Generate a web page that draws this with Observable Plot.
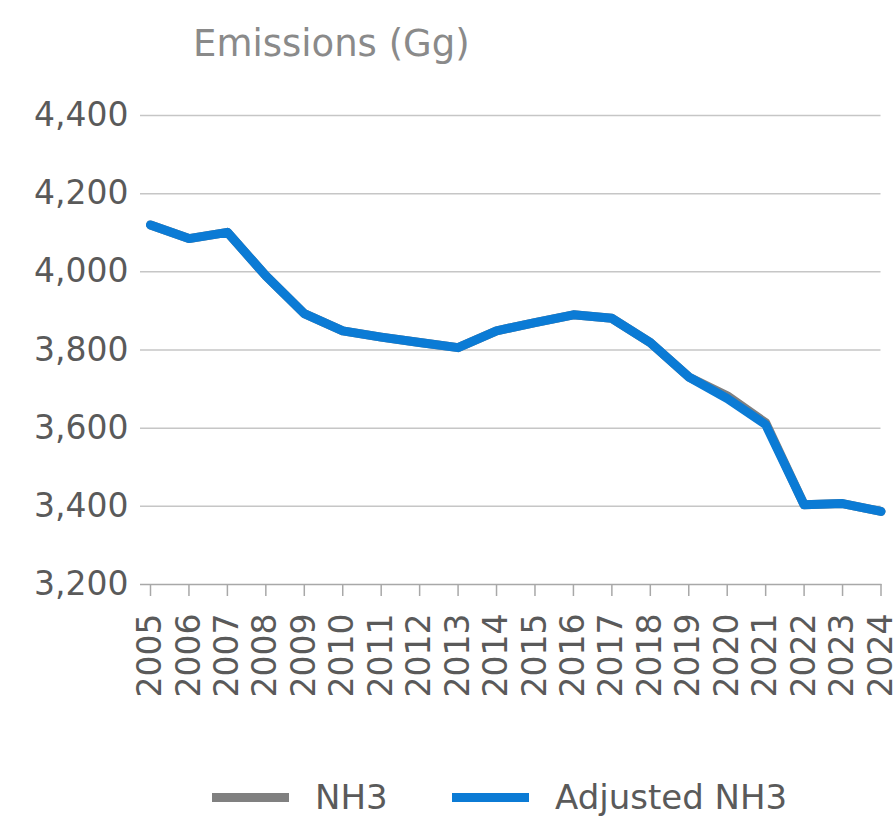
<!DOCTYPE html>
<html>
<head>
<meta charset="utf-8">
<script src="https://cdn.jsdelivr.net/npm/d3@7"></script>
<script src="https://cdn.jsdelivr.net/npm/@observablehq/plot@0.6"></script>
<style>
  html, body { margin: 0; padding: 0; background: #ffffff; }
  body { width: 894px; height: 816px; position: relative; overflow: hidden; font-family: "DejaVu Sans", sans-serif; }
  #title { position: absolute; left: 193px; top: 24px; font-size: 37px; color: #8a8a8a; line-height: 40px; white-space: nowrap; }
  #chart { position: absolute; left: 0; top: 0; }
  #legend { position: absolute; left: 0; top: 777px; width: 894px; height: 40px; }
  .item { position: absolute; top: 0; height: 40px; display: flex; align-items: center; font-size: 34px; color: #5a5a5a; white-space: nowrap; }
  .sw { display: inline-block; width: 77px; height: 9px; margin-right: 26px; }
</style>
</head>
<body>
<div id="title">Emissions (Gg)</div>
<div id="chart"></div>
<div id="legend">
  <div class="item" style="left:212px"><span class="sw" style="background:#808080"></span><span>NH3</span></div>
  <div class="item" style="left:452px"><span class="sw" style="background:#0b7bd5"></span><span>Adjusted NH3</span></div>
</div>
<script>
const years = [2005, 2006, 2007, 2008, 2009, 2010, 2011, 2012, 2013, 2014, 2015, 2016, 2017, 2018, 2019, 2020, 2021, 2022, 2023, 2024];
const nh3 = [4120, 4085, 4101, 3990, 3893, 3849, 3833, 3819, 3806, 3849, 3870, 3890, 3881, 3819, 3731, 3683, 3614, 3404, 3407, 3387];
const adjustedNh3 = [4120, 4085, 4101, 3990, 3893, 3849, 3833, 3819, 3806, 3849, 3870, 3890, 3881, 3819, 3731, 3676, 3609, 3404, 3407, 3387];
const yTicks = [3200, 3400, 3600, 3800, 4000, 4200, 4400];

const rowsNh3 = years.map((year, i) => ({year, value: nh3[i]}));
const rowsAdj = years.map((year, i) => ({year, value: adjustedNh3[i]}));

const chart = Plot.plot({
  width: 894,
  height: 720,
  marginLeft: 150,
  marginRight: 13.5,
  marginTop: 115,
  marginBottom: 136,
  style: { fontFamily: "DejaVu Sans, sans-serif", background: "transparent", overflow: "visible" },
  x: { type: "linear", domain: [2005, 2024] },
  y: { domain: [3200, 4400] },
  marks: [
    Plot.ruleY(yTicks.filter(d => d > 3200), { y: d => d, stroke: "#c6c6c6", strokeWidth: 1.5, insetLeft: -10 }),
    Plot.ruleY([3200], { y: d => d, stroke: "#a8a8a8", strokeWidth: 1.5, insetLeft: -10, insetRight: -1 }),
    Plot.axisY({ ticks: yTicks, tickSize: 0, tickPadding: 22, tickFormat: d3.format(","), fontSize: 33, fill: "#5a5a5a", label: null }),
    Plot.axisX({ ticks: years, tickSize: 12, tickPadding: 17, tickRotate: -90, tickFormat: d => String(d), fontSize: 33, stroke: "#a8a8a8", strokeWidth: 1.5, fill: "#5a5a5a", label: null }),
    Plot.lineY(rowsNh3, { x: "year", y: "value", stroke: "#808080", strokeWidth: 9 }),
    Plot.lineY(rowsAdj, { x: "year", y: "value", stroke: "#0b7bd5", strokeWidth: 9 })
  ]
});
document.getElementById("chart").appendChild(chart);
</script>
</body>
</html>
